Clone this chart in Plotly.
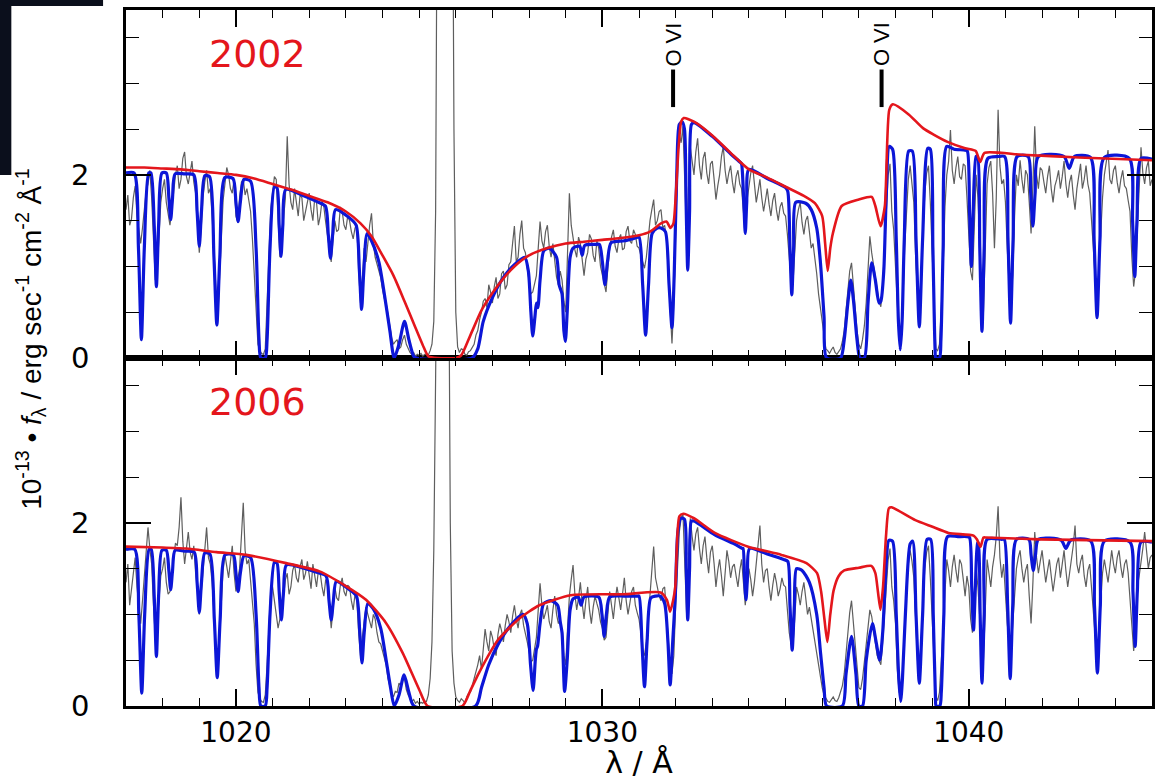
import plotly.graph_objects as go

# ---------------- data ----------------
X_RANGE = [1017, 1045]
Y_RANGE = [0, 3.8]
X_TICKS = [1020, 1030, 1040]
Y_TICKS = [0, 2]
YEARS = ["2002", "2006"]
OVI_WAVE = [1031.93, 1037.62]
OVI_MARK = [2.74, 3.15]

# observed spectra, sampled every 0.05 A starting at 1017.0 A (one row per Angstrom)
GREY_START = 1017.0
GREY_STEP = 0.05
grey_2002 = [
    1.62, 1.78, 1.45, 1.52, 1.75, 1.88, 1.55, 1.40, 1.25, 1.42, 1.60, 1.82, 1.90, 2.05, 1.75, 1.30, 0.85, 0.95, 1.35, 1.70,
    1.85, 1.95, 1.70, 1.55, 1.45, 1.62, 1.80, 2.00, 2.10, 1.85, 1.95, 2.18, 2.25, 1.98, 1.90, 2.05, 2.15, 1.92, 1.80, 1.50,
    1.15, 1.40, 1.75, 1.92, 2.05, 1.80, 1.85, 1.55, 1.20, 0.75, 0.40, 0.85, 1.30, 1.72, 1.90, 2.08, 2.00, 1.85, 1.80, 1.95,
    1.55, 1.48, 1.75, 1.92, 1.95, 1.78, 1.85, 1.70, 1.60, 1.30, 0.90, 0.50, 0.15, 0.08, 0.05, 0.04, 0.10, 0.60, 1.20, 1.62,
    1.80, 1.98, 1.95, 1.50, 1.10, 1.30, 1.55, 1.75, 2.42, 1.90, 1.70, 1.62, 1.85, 1.68, 1.55, 1.78, 1.75, 1.50, 1.60, 1.72,
    1.80, 1.62, 1.50, 1.75, 1.70, 1.45, 1.55, 1.72, 1.65, 1.48, 1.35, 1.20, 1.05, 1.30, 1.50, 1.38, 1.40, 1.65, 1.60, 1.45,
    1.40, 1.55, 1.50, 1.38, 1.30, 1.42, 1.45, 0.95, 0.60, 0.85, 1.20, 1.05, 1.30, 1.45, 1.58, 1.25, 1.10, 1.02, 0.95, 0.88,
    0.75, 0.65, 0.60, 0.45, 0.35, 0.22, 0.15, 0.18, 0.20, 0.10, 0.12, 0.20, 0.25, 0.15, 0.10, 0.06, 0.04, 0.06, 0.02, 0.04,
    0.03, 0.05, 0.02, 0.04, 0.04, 0.03, 0.08, 0.15, 0.40, 1.60, 6.00, 9.00, 12.0, 13.0, 14.0, 13.5, 12.0, 9.50, 6.50, 2.50,
    0.50, 0.12, 0.06, 0.10, 0.09, 0.04, 0.03, 0.07, 0.08, 0.12, 0.15, 0.25, 0.30, 0.42, 0.50, 0.62, 0.65, 0.55, 0.80, 0.72,
    0.60, 0.78, 0.88, 0.65, 0.70, 0.92, 0.95, 0.75, 0.80, 1.02, 1.05, 1.25, 1.44, 1.05, 1.10, 1.35, 1.50, 1.20, 1.15, 0.98,
    0.85, 0.70, 0.72, 0.82, 0.90, 1.20, 1.49, 1.28, 1.20, 1.38, 1.45, 1.22, 1.10, 1.25, 1.05, 0.88, 0.80, 0.95, 0.85, 0.62,
    0.50, 1.10, 1.80, 1.45, 1.30, 1.18, 1.10, 1.32, 1.25, 1.05, 0.90, 1.08, 1.15, 1.35, 1.30, 1.12, 1.05, 1.28, 1.20, 1.00,
    0.90, 0.80, 0.72, 0.98, 1.20, 1.32, 1.40, 1.22, 1.15, 1.30, 1.35, 1.18, 1.20, 1.38, 1.44, 1.28, 1.25, 1.40, 1.35, 1.22,
    1.20, 1.12, 1.05, 0.98, 1.10, 1.35, 1.50, 1.62, 1.73, 1.45, 1.50, 1.60, 1.62, 1.42, 1.45, 1.30, 0.90, 0.45, 0.16, 0.60,
    1.40, 2.10, 2.45, 2.35, 2.53, 1.90, 1.30, 1.85, 2.30, 2.15, 2.00, 2.25, 2.40, 2.10, 1.95, 2.18, 2.25, 2.02, 1.90, 2.12,
    2.15, 1.95, 1.73, 1.88, 2.00, 2.20, 2.31, 2.05, 1.90, 2.02, 2.10, 1.92, 1.80, 1.98, 2.05, 1.90, 1.85, 1.60, 1.40, 1.72,
    1.90, 2.02, 2.10, 1.85, 1.70, 1.82, 1.95, 1.75, 1.60, 1.72, 1.85, 1.68, 1.55, 1.72, 1.80, 1.62, 1.50, 1.65, 1.70, 1.58,
    1.55, 1.35, 1.10, 0.85, 0.80, 1.15, 1.50, 1.62, 1.70, 1.48, 1.35, 1.50, 1.55, 1.38, 1.20, 1.25, 1.10, 0.92, 0.70, 0.55,
    0.35, 0.20, 0.10, 0.08, 0.05, 0.09, 0.12, 0.06, 0.04, 0.07, 0.10, 0.18, 0.30, 0.52, 0.75, 0.95, 1.04, 0.80, 0.50, 0.30,
    0.15, 0.10, 0.20, 0.35, 0.60, 1.05, 1.33, 1.15, 1.00, 0.88, 0.75, 0.62, 0.56, 0.80, 1.20, 1.70, 2.00, 2.12, 1.60, 1.40,
    1.00, 0.45, 0.20, 0.18, 0.60, 1.20, 1.60, 1.95, 2.10, 1.92, 1.70, 1.10, 0.70, 0.55, 0.80, 1.35, 1.80, 2.02, 2.10, 1.70,
    1.20, 0.50, 0.10, 0.08, 0.15, 0.55, 1.00, 1.65, 2.00, 2.15, 2.49, 2.05, 1.90, 2.08, 2.20, 1.98, 1.95, 2.12, 2.10, 1.75,
    1.40, 0.95, 0.85, 1.45, 2.00, 1.75, 1.20, 0.70, 0.50, 1.20, 1.90, 2.08, 2.15, 1.80, 1.20, 1.75, 2.71, 2.10, 1.90, 1.95,
    1.70, 1.20, 0.80, 0.65, 0.90, 1.55, 2.00, 1.88, 2.16, 1.95, 1.80, 2.05, 2.00, 1.70, 1.36, 1.90, 2.53, 2.00, 1.85, 2.08,
    2.05, 1.92, 1.80, 1.98, 2.10, 1.85, 1.70, 1.88, 1.95, 2.05, 1.85, 1.98, 2.15, 1.90, 1.75, 1.92, 2.00, 1.78, 1.62, 1.85,
    2.00, 2.12, 1.85, 1.95, 2.10, 1.90, 1.80, 1.55, 1.20, 0.85, 0.63, 0.95, 1.40, 1.75, 2.00, 2.15, 2.27, 1.95, 1.90, 2.05,
    2.10, 1.92, 1.80, 1.95, 2.05, 1.88, 1.85, 1.72, 1.60, 1.10, 0.78, 0.95, 1.40, 1.90, 2.30, 2.02, 1.90, 2.08, 2.15, 1.88,
    1.95,
]
grey_2006 = [
    1.35, 1.55, 1.10, 1.28, 1.50, 1.62, 1.30, 1.12, 0.90, 1.15, 1.45, 1.70, 1.95, 1.72, 1.55, 1.10, 0.75, 0.90, 1.20, 1.42,
    1.50, 1.62, 1.35, 1.22, 1.25, 1.45, 1.60, 1.78, 1.75, 1.95, 2.28, 1.80, 1.55, 1.72, 1.90, 1.68, 1.60, 1.75, 1.45, 1.30,
    1.00, 1.22, 1.50, 1.70, 1.95, 1.62, 1.55, 1.35, 1.05, 0.65, 0.35, 0.75, 1.20, 1.48, 1.65, 1.50, 1.40, 1.58, 1.75, 1.45,
    1.25, 1.38, 1.50, 1.85, 2.22, 1.70, 1.55, 1.60, 1.35, 1.15, 0.90, 0.45, 0.15, 0.08, 0.05, 0.04, 0.12, 0.45, 0.90, 1.25,
    1.30, 1.12, 1.00, 0.85, 0.95, 1.10, 1.20, 1.38, 1.45, 1.22, 1.30, 1.48, 1.55, 1.40, 1.35, 1.52, 1.60, 1.38, 1.45, 1.58,
    1.40, 1.28, 1.55, 1.42, 1.30, 1.48, 1.45, 1.30, 1.20, 1.38, 1.35, 1.10, 0.85, 1.05, 1.30, 1.18, 1.15, 1.32, 1.40, 1.25,
    1.20, 1.32, 1.30, 1.15, 1.05, 1.22, 1.15, 0.80, 0.55, 0.75, 0.95, 1.08, 1.00, 0.92, 0.85, 1.00, 0.95, 0.80, 0.70, 0.68,
    0.60, 0.52, 0.45, 0.30, 0.20, 0.14, 0.10, 0.16, 0.15, 0.25, 0.22, 0.28, 0.30, 0.18, 0.12, 0.08, 0.05, 0.07, 0.03, 0.05,
    0.02, 0.04, 0.03, 0.05, 0.05, 0.12, 0.30, 0.70, 1.70, 3.60, 8.00, 10.5, 12.0, 12.5, 11.0, 8.50, 5.50, 2.00, 0.60, 0.25,
    0.10, 0.06, 0.04, 0.08, 0.06, 0.03, 0.10, 0.14, 0.15, 0.22, 0.30, 0.38, 0.45, 0.55, 0.40, 0.62, 0.84, 0.70, 0.60, 0.82,
    0.75, 0.62, 0.55, 0.78, 0.90, 0.82, 0.70, 0.88, 1.00, 0.92, 0.80, 0.98, 1.10, 0.95, 0.85, 1.00, 1.05, 0.88, 0.80, 0.70,
    0.60, 0.48, 0.50, 0.62, 0.75, 1.05, 1.34, 1.10, 0.95, 1.02, 1.10, 0.92, 0.85, 1.05, 1.20, 1.00, 0.90, 0.95, 0.80, 0.55,
    0.45, 0.85, 1.20, 1.38, 1.54, 1.22, 1.05, 1.18, 1.35, 1.12, 0.95, 1.15, 1.30, 1.05, 0.90, 1.08, 1.20, 1.12, 1.05, 0.92,
    0.85, 0.72, 0.75, 1.00, 1.25, 1.10, 0.95, 1.15, 1.30, 1.18, 1.05, 1.22, 1.40, 1.15, 1.00, 1.12, 1.25, 1.30, 1.10, 1.02,
    0.95, 0.80, 0.60, 0.55, 0.70, 0.95, 1.20, 1.45, 1.74, 1.40, 1.30, 1.20, 1.15, 1.28, 1.30, 1.00, 0.60, 0.42, 0.35, 0.55,
    1.10, 1.60, 1.90, 2.05, 2.10, 1.55, 1.00, 1.60, 2.05, 1.85, 1.70, 1.88, 1.95, 1.72, 1.55, 1.75, 1.85, 1.62, 1.45, 1.68,
    1.75, 1.55, 1.30, 1.48, 1.60, 1.42, 1.20, 1.45, 1.70, 1.58, 1.40, 1.52, 1.55, 1.42, 1.30, 1.48, 1.60, 1.35, 1.10, 1.30,
    1.50, 1.38, 1.20, 1.35, 1.55, 1.70, 1.97, 1.55, 1.35, 1.48, 1.50, 1.30, 1.15, 1.32, 1.45, 1.35, 1.20, 1.28, 1.40, 1.32,
    1.30, 1.05, 0.80, 0.68, 0.65, 0.95, 1.30, 1.22, 1.10, 1.25, 1.35, 1.18, 1.00, 1.08, 0.95, 0.82, 0.70, 0.58, 0.45, 0.32,
    0.20, 0.12, 0.08, 0.05, 0.04, 0.07, 0.10, 0.06, 0.05, 0.09, 0.15, 0.22, 0.35, 0.58, 0.80, 1.02, 1.15, 0.90, 0.60, 0.35,
    0.20, 0.18, 0.30, 0.48, 0.70, 0.92, 1.05, 0.98, 0.85, 0.70, 0.55, 0.50, 0.45, 0.70, 1.00, 1.35, 1.60, 1.72, 1.30, 1.15,
    0.90, 0.40, 0.15, 0.12, 0.40, 0.90, 1.30, 1.55, 1.70, 1.58, 1.40, 0.85, 0.50, 0.45, 0.70, 1.15, 1.50, 1.68, 1.75, 1.40,
    1.00, 0.45, 0.10, 0.06, 0.15, 0.50, 0.90, 1.30, 1.60, 1.48, 1.30, 1.52, 1.65, 1.48, 1.35, 1.60, 1.55, 1.38, 1.20, 1.42,
    1.30, 0.95, 0.80, 1.15, 1.50, 1.30, 0.90, 0.62, 0.50, 1.00, 1.60, 1.45, 1.30, 1.52, 1.65, 1.85, 2.18, 1.62, 1.40, 1.55,
    1.20, 0.90, 0.70, 0.58, 0.90, 1.25, 1.50, 1.62, 1.70, 1.50, 1.35, 1.48, 1.55, 1.20, 0.90, 1.35, 1.90, 1.62, 1.45, 1.58,
    1.70, 1.52, 1.35, 1.48, 1.60, 1.42, 1.25, 1.40, 1.55, 1.62, 1.40, 1.55, 1.70, 1.48, 1.30, 1.45, 1.60, 1.75, 1.97, 1.55,
    1.45, 1.58, 1.65, 1.42, 1.30, 1.48, 1.55, 1.30, 1.00, 0.70, 0.50, 0.80, 1.20, 1.45, 1.60, 1.48, 1.35, 1.52, 1.70, 1.55,
    1.45, 1.62, 1.70, 1.52, 1.40, 1.55, 1.60, 1.45, 1.20, 0.85, 0.60, 0.85, 1.30, 1.42, 1.55, 1.72, 1.90, 1.65, 1.50, 1.62,
    1.65,
]

# stellar model (red): (wavelength, flux) vertices
red_2002 = [
    (1017.0, 2.08), (1017.5, 2.08), (1018.0, 2.07), (1018.5, 2.06), (1019.0, 2.04),
    (1019.5, 2.02), (1020.0, 2.00), (1020.5, 1.96), (1021.0, 1.90), (1021.5, 1.84),
    (1022.0, 1.77), (1022.5, 1.70), (1023.0, 1.60), (1023.4, 1.47), (1023.7, 1.33),
    (1024.0, 1.12), (1024.3, 0.90), (1024.6, 0.62), (1024.9, 0.33), (1025.1, 0.14),
    (1025.25, 0.02), (1025.5, 0.0), (1026.0, 0.0), (1026.15, 0.03), (1026.4, 0.25),
    (1026.7, 0.52), (1027.0, 0.71), (1027.3, 0.87), (1027.6, 1.00), (1028.0, 1.12),
    (1028.5, 1.20), (1029.0, 1.25), (1029.5, 1.27), (1030.0, 1.29), (1030.5, 1.31),
    (1031.0, 1.34), (1031.3, 1.38), (1031.6, 1.47), (1031.75, 1.49), (1031.86, 1.42),
    (1031.94, 1.47), (1032.0, 1.75), (1032.08, 2.30), (1032.15, 2.58), (1032.22, 2.62),
    (1032.5, 2.58), (1033.0, 2.43), (1033.5, 2.24), (1034.0, 2.06), (1034.5, 1.97),
    (1035.0, 1.87), (1035.5, 1.77), (1035.8, 1.69), (1036.0, 1.55), (1036.08, 1.25),
    (1036.15, 0.95), (1036.22, 1.20), (1036.29, 1.36), (1036.53, 1.66), (1037.0, 1.73),
    (1037.35, 1.76), (1037.45, 1.66), (1037.59, 1.44), (1037.71, 1.66), (1037.83, 2.71),
    (1037.93, 2.77), (1038.36, 2.66), (1038.75, 2.51), (1039.04, 2.44), (1039.42, 2.36),
    (1039.9, 2.29), (1040.19, 2.26), (1040.31, 2.14), (1040.43, 2.24), (1041.44, 2.22),
    (1043.0, 2.19), (1045.0, 2.16),
]
red_2006 = [
    (1017.0, 1.74), (1018.0, 1.73), (1018.65, 1.72), (1019.47, 1.68), (1020.28, 1.65),
    (1021.37, 1.56), (1022.28, 1.47), (1023.0, 1.31), (1023.55, 1.16), (1024.09, 0.91),
    (1024.55, 0.58), (1025.0, 0.18), (1025.23, 0.0), (1026.18, 0.0), (1026.4, 0.17),
    (1026.63, 0.36), (1027.15, 0.72), (1027.72, 0.95), (1028.28, 1.10), (1029.14, 1.21),
    (1030.56, 1.22), (1031.59, 1.24), (1031.76, 1.16), (1031.85, 1.03), (1031.93, 1.15),
    (1031.99, 1.30), (1032.10, 2.07), (1032.21, 2.10), (1032.50, 2.05), (1033.07, 1.89),
    (1033.98, 1.74), (1034.89, 1.65), (1035.57, 1.56), (1035.86, 1.45), (1035.97, 1.25),
    (1036.06, 0.95), (1036.14, 0.70), (1036.22, 1.00), (1036.31, 1.26), (1036.45, 1.42),
    (1036.60, 1.48), (1037.0, 1.51), (1037.34, 1.53), (1037.45, 1.45), (1037.52, 1.25),
    (1037.59, 1.05), (1037.66, 1.30), (1037.74, 1.85), (1037.82, 2.16), (1037.89, 2.17),
    (1038.54, 2.03), (1038.99, 1.96), (1039.45, 1.89), (1040.13, 1.86), (1040.22, 1.82),
    (1040.32, 1.74), (1040.40, 1.84), (1040.47, 1.84), (1041.95, 1.82), (1045.0, 1.80),
]

# model with interstellar absorption (blue): (wavelength, flux) vertices
blue_2002 = [
    (1017.0, 2.02),
    (1017.22, 2.02), (1017.34, 1.20), (1017.42, 0.20), (1017.50, 1.20), (1017.62, 2.02),
    (1017.68, 2.02), (1017.77, 1.45), (1017.83, 0.78), (1017.89, 1.45), (1017.98, 2.02),
    (1018.10, 2.02), (1018.17, 1.75), (1018.22, 1.51), (1018.27, 1.75), (1018.34, 2.01),
    (1018.60, 2.01),
    (1018.85, 2.00), (1018.94, 1.60), (1019.00, 1.22), (1019.06, 1.60), (1019.15, 1.99),
    (1019.28, 1.98), (1019.40, 1.10), (1019.48, 0.36), (1019.56, 1.10), (1019.70, 1.97),
    (1019.92, 1.96), (1020.00, 1.70), (1020.06, 1.49), (1020.12, 1.70), (1020.22, 1.95),
    (1020.40, 1.93), (1020.55, 1.20), (1020.63, 0.20), (1020.68, 0.0), (1020.80, 0.0),
    (1020.85, 0.20), (1020.93, 1.20), (1021.05, 1.87),
    (1021.12, 1.86), (1021.18, 1.45), (1021.23, 1.11), (1021.28, 1.45), (1021.36, 1.84),
    (1021.80, 1.78), (1022.20, 1.71),
    (1022.44, 1.66), (1022.52, 1.35), (1022.58, 1.09), (1022.64, 1.35), (1022.72, 1.62),
    (1023.10, 1.53),
    (1023.28, 1.45), (1023.37, 0.95), (1023.43, 0.53), (1023.49, 0.95), (1023.58, 1.36),
    (1023.70, 1.28), (1023.90, 1.05), (1024.05, 0.70), (1024.20, 0.30), (1024.32, 0.0),
    (1024.45, 0.15), (1024.60, 0.40), (1024.72, 0.20), (1024.85, 0.02), (1024.92, 0.0),
    (1026.45, 0.0), (1026.60, 0.10), (1026.75, 0.40), (1027.00, 0.66), (1027.30, 0.88),
    (1027.60, 1.02), (1027.88, 1.10),
    (1027.98, 0.95), (1028.05, 0.50), (1028.10, 0.24), (1028.16, 0.45), (1028.20, 0.60),
    (1028.24, 0.55), (1028.30, 0.85), (1028.40, 1.17), (1028.55, 1.20),
    (1028.75, 1.10), (1028.82, 0.80), (1028.86, 0.75), (1028.90, 0.70), (1028.95, 0.30),
    (1028.99, 0.18), (1029.04, 0.50), (1029.12, 1.10), (1029.20, 1.20),
    (1029.38, 1.22), (1029.45, 1.12), (1029.52, 1.23), (1029.80, 1.24),
    (1029.92, 1.24), (1030.00, 1.05), (1030.07, 0.80), (1030.14, 1.05), (1030.24, 1.26),
    (1030.60, 1.28), (1030.90, 1.31),
    (1031.00, 1.32), (1031.10, 0.80), (1031.18, 0.25), (1031.26, 0.80), (1031.36, 1.36),
    (1031.50, 1.42), (1031.60, 1.42),
    (1031.72, 1.38), (1031.82, 0.80), (1031.90, 0.33), (1031.96, 0.90), (1032.03, 2.00),
    (1032.10, 2.55), (1032.18, 2.58),
    (1032.24, 2.50), (1032.29, 1.60), (1032.33, 0.96), (1032.38, 1.60), (1032.43, 2.55),
    (1032.50, 2.57), (1033.00, 2.42), (1033.50, 2.23), (1033.78, 2.13),
    (1033.80, 2.12), (1033.86, 1.70), (1033.90, 1.36), (1033.94, 1.70), (1034.00, 2.06),
    (1034.50, 1.96), (1035.00, 1.86),
    (1035.06, 1.82), (1035.12, 1.20), (1035.17, 0.69), (1035.22, 1.20), (1035.28, 1.70),
    (1035.55, 1.69), (1035.70, 1.62), (1035.85, 1.42), (1035.95, 1.05), (1036.05, 0.45),
    (1036.12, 0.0), (1036.50, 0.0), (1036.60, 0.20), (1036.70, 0.60), (1036.78, 0.85),
    (1036.86, 0.60), (1036.95, 0.20), (1037.03, 0.0), (1037.15, 0.0), (1037.25, 0.60),
    (1037.35, 1.04), (1037.45, 0.85), (1037.55, 0.60), (1037.60, 0.62), (1037.68, 0.95),
    (1037.75, 1.80), (1037.83, 2.31),
    (1037.92, 2.28), (1038.02, 1.30), (1038.08, 0.40), (1038.13, 0.09), (1038.18, 0.40),
    (1038.24, 1.30), (1038.36, 2.26),
    (1038.46, 2.26), (1038.56, 1.30), (1038.65, 0.34), (1038.74, 1.30), (1038.88, 2.29),
    (1038.95, 2.28), (1039.02, 1.20), (1039.08, 0.10), (1039.10, 0.0), (1039.20, 0.0),
    (1039.24, 0.20), (1039.30, 1.20), (1039.40, 2.31),
    (1039.60, 2.28), (1039.90, 2.27),
    (1039.96, 2.26), (1040.02, 1.60), (1040.07, 1.00), (1040.12, 1.60), (1040.20, 2.20),
    (1040.24, 2.20), (1040.30, 1.20), (1040.36, 0.29), (1040.42, 1.20), (1040.52, 2.18),
    (1040.80, 2.20),
    (1040.98, 2.20), (1041.07, 1.30), (1041.14, 0.38), (1041.21, 1.30), (1041.32, 2.20),
    (1041.62, 2.20), (1041.69, 1.80), (1041.75, 1.44), (1041.81, 1.80), (1041.90, 2.20),
    (1042.60, 2.20), (1042.74, 2.07), (1042.88, 2.20),
    (1043.32, 2.19), (1043.42, 1.30), (1043.50, 0.44), (1043.58, 1.30), (1043.70, 2.19),
    (1044.38, 2.18), (1044.47, 1.50), (1044.53, 0.89), (1044.59, 1.50), (1044.70, 2.18),
    (1045.00, 2.17),
]
blue_2006 = [
    (1017.0, 1.71),
    (1017.24, 1.71), (1017.35, 1.00), (1017.43, 0.14), (1017.51, 1.00), (1017.63, 1.71),
    (1017.69, 1.71), (1017.77, 1.20), (1017.83, 0.54), (1017.89, 1.20), (1017.98, 1.70),
    (1018.10, 1.70), (1018.17, 1.48), (1018.22, 1.27), (1018.27, 1.48), (1018.34, 1.70),
    (1018.60, 1.69),
    (1018.86, 1.68), (1018.94, 1.35), (1019.00, 1.02), (1019.06, 1.35), (1019.15, 1.67),
    (1019.29, 1.66), (1019.41, 0.95), (1019.49, 0.31), (1019.57, 0.95), (1019.70, 1.65),
    (1019.93, 1.65), (1020.00, 1.45), (1020.06, 1.25), (1020.12, 1.45), (1020.22, 1.64),
    (1020.40, 1.62), (1020.55, 1.00), (1020.63, 0.20), (1020.68, 0.0), (1020.80, 0.0),
    (1020.85, 0.20), (1020.93, 1.00), (1021.05, 1.57),
    (1021.12, 1.56), (1021.18, 1.25), (1021.24, 0.94), (1021.30, 1.25), (1021.38, 1.54),
    (1021.80, 1.51), (1022.20, 1.46),
    (1022.46, 1.42), (1022.54, 1.15), (1022.60, 0.94), (1022.66, 1.15), (1022.74, 1.36),
    (1023.10, 1.27),
    (1023.29, 1.20), (1023.38, 0.80), (1023.44, 0.47), (1023.50, 0.80), (1023.60, 1.12),
    (1023.75, 1.06), (1023.95, 0.85), (1024.10, 0.50), (1024.22, 0.20), (1024.32, 0.0),
    (1024.45, 0.12), (1024.59, 0.34), (1024.72, 0.15), (1024.86, 0.0),
    (1026.54, 0.0), (1026.70, 0.20), (1026.90, 0.45), (1027.15, 0.67), (1027.50, 0.88),
    (1027.83, 1.00),
    (1027.95, 0.90), (1028.04, 0.45), (1028.11, 0.17), (1028.17, 0.50), (1028.20, 0.62),
    (1028.23, 0.65), (1028.30, 0.90), (1028.40, 1.12), (1028.60, 1.15),
    (1028.78, 1.10), (1028.85, 0.92), (1028.90, 0.80), (1028.97, 0.16), (1029.04, 0.50),
    (1029.12, 1.05), (1029.20, 1.17),
    (1029.34, 1.19), (1029.42, 1.10), (1029.50, 1.19),
    (1029.90, 1.19), (1029.99, 1.00), (1030.05, 0.76), (1030.11, 1.00), (1030.20, 1.19),
    (1030.60, 1.20), (1030.95, 1.20),
    (1031.00, 1.20), (1031.08, 0.70), (1031.15, 0.21), (1031.22, 0.70), (1031.32, 1.18),
    (1031.45, 1.20), (1031.58, 1.20),
    (1031.70, 1.12), (1031.79, 0.70), (1031.85, 0.23), (1031.92, 0.70), (1031.99, 1.20),
    (1032.06, 1.90), (1032.14, 2.05),
    (1032.24, 2.04), (1032.29, 1.50), (1032.33, 0.94), (1032.38, 1.50), (1032.43, 2.02),
    (1032.50, 2.02), (1033.07, 1.87), (1033.60, 1.77), (1033.82, 1.72),
    (1033.84, 1.72), (1033.88, 1.40), (1033.92, 1.16), (1033.96, 1.40), (1034.02, 1.72),
    (1034.50, 1.66), (1034.95, 1.60),
    (1035.06, 1.58), (1035.12, 1.10), (1035.18, 0.61), (1035.24, 1.10), (1035.30, 1.50),
    (1035.45, 1.48), (1035.65, 1.35), (1035.85, 1.00), (1035.95, 0.60), (1036.05, 0.20),
    (1036.12, 0.0), (1036.55, 0.0), (1036.65, 0.35), (1036.80, 0.76), (1036.92, 0.35),
    (1037.00, 0.0), (1037.10, 0.0), (1037.20, 0.50), (1037.37, 0.90), (1037.47, 0.70),
    (1037.57, 0.50), (1037.65, 0.80), (1037.74, 1.50), (1037.82, 1.81),
    (1037.92, 1.80), (1038.02, 1.00), (1038.09, 0.30), (1038.14, 0.05), (1038.19, 0.30),
    (1038.27, 1.00), (1038.40, 1.77),
    (1038.47, 1.80), (1038.56, 1.00), (1038.65, 0.25), (1038.74, 1.00), (1038.86, 1.82),
    (1038.96, 1.82), (1039.03, 1.00), (1039.09, 0.10), (1039.11, 0.0), (1039.21, 0.0),
    (1039.25, 0.15), (1039.32, 1.00), (1039.42, 1.85),
    (1039.70, 1.85), (1039.95, 1.85),
    (1040.02, 1.84), (1040.08, 1.30), (1040.13, 0.83), (1040.18, 1.30), (1040.24, 1.78),
    (1040.26, 1.78), (1040.31, 1.00), (1040.36, 0.25), (1040.42, 1.00), (1040.50, 1.82),
    (1040.90, 1.82),
    (1040.97, 1.82), (1041.06, 1.10), (1041.13, 0.30), (1041.20, 1.10), (1041.30, 1.82),
    (1041.64, 1.82), (1041.70, 1.65), (1041.76, 1.48), (1041.82, 1.65), (1041.90, 1.82),
    (1042.52, 1.81), (1042.65, 1.72), (1042.78, 1.81),
    (1043.33, 1.80), (1043.43, 1.10), (1043.51, 0.36), (1043.59, 1.10), (1043.70, 1.80),
    (1044.40, 1.79), (1044.48, 1.25), (1044.54, 0.65), (1044.60, 1.25), (1044.70, 1.79),
    (1045.00, 1.79),
]

# ---------------- styling ----------------
GREY = "#5e5e5e"
BLUE = "rgb(12,22,215)"
RED = "rgb(228,22,28)"
FONT = "Liberation Sans, Arial, sans-serif"
WIDE = "DejaVu Sans, Liberation Sans, sans-serif"

fig = go.Figure()

panels = [
    (grey_2002, blue_2002, red_2002, "x2", "y2"),
    (grey_2006, blue_2006, red_2006, "x", "y"),
]
for grey, blue, red, xa, ya in panels:
    gx = [round(GREY_START + GREY_STEP * i, 3) for i in range(len(grey))]
    fig.add_trace(go.Scatter(x=gx, y=grey, mode="lines", xaxis=xa, yaxis=ya,
                             line=dict(color=GREY, width=1.2), hoverinfo="skip"))
    bx, by = zip(*blue)
    fig.add_trace(go.Scatter(x=list(bx), y=list(by), mode="lines", xaxis=xa, yaxis=ya,
                             line=dict(color=BLUE, width=3.2, shape="spline", smoothing=0.7),
                             hoverinfo="skip"))
    rx, ry = zip(*red)
    fig.add_trace(go.Scatter(x=list(rx), y=list(ry), mode="lines", xaxis=xa, yaxis=ya,
                             line=dict(color=RED, width=2.6, shape="spline", smoothing=0.6),
                             hoverinfo="skip"))

# O VI markers (top panel)
for w in OVI_WAVE:
    fig.add_trace(go.Scatter(x=[w, w], y=OVI_MARK, mode="lines", xaxis="x2", yaxis="y2",
                             line=dict(color="black", width=4), hoverinfo="skip"))
    fig.add_annotation(x=w, y=OVI_MARK[1], xref="x2", yref="y2", text="O VI",
                       textangle=-90, showarrow=False, yanchor="bottom", xanchor="center",
                       yshift=1, font=dict(family=FONT, size=22, color="black"))

axis_common = dict(
    range=X_RANGE, showline=True, linewidth=2.5, linecolor="black", mirror="allticks",
    ticks="inside", ticklen=17, tickwidth=1.6, tickcolor="black",
    showgrid=False, zeroline=False,
    minor=dict(ticks="inside", ticklen=8, tickwidth=1.4, tickcolor="black",
               tick0=1017, dtick=1, showgrid=False),
)
yaxis_common = dict(
    range=Y_RANGE, showline=True, linewidth=2.5, linecolor="black", mirror="allticks",
    ticks="inside", ticklen=25, tickwidth=1.6, tickcolor="black",
    tickmode="array", tickvals=Y_TICKS, showgrid=False, zeroline=False,
    tickfont=dict(family=WIDE, size=29, color="black"), ticklabelstandoff=28,
    minor=dict(ticks="inside", ticklen=13, tickwidth=1.4, tickcolor="black",
               tick0=0, dtick=0.5, showgrid=False),
)

fig.update_layout(
    width=1155, height=780,
    margin=dict(l=126, r=0, t=10, b=74),
    paper_bgcolor="white", plot_bgcolor="white",
    showlegend=False,
    xaxis=dict(axis_common, domain=[0, 1], anchor="y",
               tickmode="array", tickvals=X_TICKS,
               tickfont=dict(family=WIDE, size=28, color="black"),
               title=dict(text="λ / Å", standoff=6,
                          font=dict(family=WIDE, size=30, color="black"))),
    xaxis2=dict(axis_common, domain=[0, 1], anchor="y2",
                tickmode="array", tickvals=X_TICKS, showticklabels=False),
    yaxis=dict(yaxis_common, domain=[0, 0.5], anchor="x"),
    yaxis2=dict(yaxis_common, domain=[0.5, 1], anchor="x2"),
)

# year labels
fig.add_annotation(x=1020.6, y=3.32, xref="x2", yref="y2", text=YEARS[0],
                   showarrow=False, font=dict(family=WIDE, size=38, color=RED))
fig.add_annotation(x=1020.6, y=3.32, xref="x", yref="y", text=YEARS[1],
                   showarrow=False, font=dict(family=WIDE, size=38, color=RED))

# y-axis title
fig.add_annotation(
    x=-0.0933, y=0.528, xref="paper", yref="paper", textangle=-90, showarrow=False,
    xanchor="center", yanchor="middle",
    text="10<sup>-13</sup> • <i>f</i><sub>λ</sub> / erg sec<sup>-1</sup> cm<sup>-2</sup> Å<sup>-1</sup>",
    font=dict(family=FONT, size=28, color="black"))

# dark screen corner at top-left
DARK = "#0b0f1c"
fig.add_shape(type="rect", xref="paper", yref="paper", x0=-0.13, x1=-0.02235,
              y0=1.00575, y1=1.03, fillcolor=DARK, line=dict(width=0), layer="above")
fig.add_shape(type="rect", xref="paper", yref="paper", x0=-0.13, x1=-0.11176,
              y0=0.7629, y1=1.03, fillcolor=DARK, line=dict(width=0), layer="above")

fig.write_html("out.html", config={"displayModeBar": False},
               post_script="document.body.style.margin='0';")
